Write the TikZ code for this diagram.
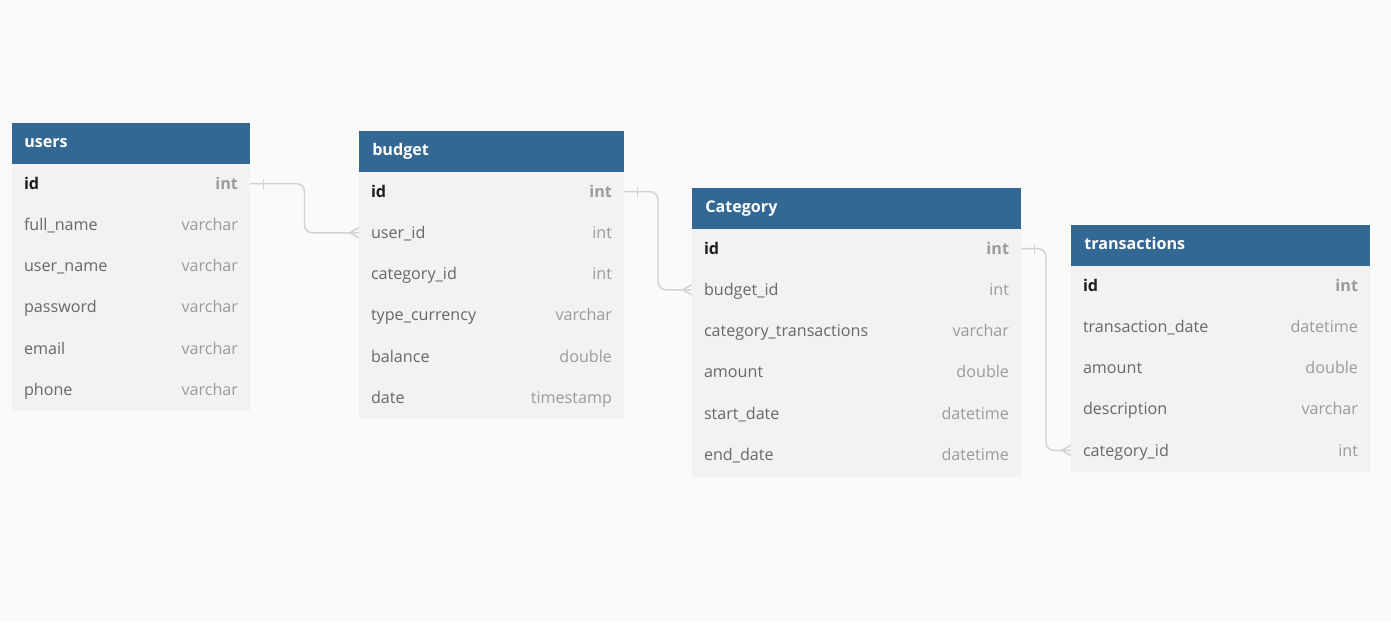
\documentclass[tikz,border=0pt]{standalone}
\usepackage{fontspec}
\setmainfont{Open Sans}
\usetikzlibrary{positioning}
\usetikzlibrary{calc}

\definecolor{pagebg}{HTML}{FAFAFA}
\definecolor{headblue}{HTML}{336794}
\definecolor{rowgray}{HTML}{F2F2F2}
\definecolor{namegray}{HTML}{686868}
\definecolor{typegray}{HTML}{9B9B9B}
\definecolor{keyblack}{HTML}{1E1E1E}
\definecolor{linkgray}{HTML}{D2D2D2}

\tikzset{
  headtext/.style={anchor=west, inner sep=0pt, text height=9pt, text depth=3pt, text=white, font=\bfseries\fontsize{12.1}{14}\selectfont},
  rowbox/.style={minimum height=30.9pt, inner sep=0pt},
  fieldname/.style={inner sep=0pt, text height=11.5pt, text depth=3pt, text=namegray, font=\fontsize{12.1}{14}\selectfont},
  fieldtype/.style={inner sep=0pt, text height=11.5pt, text depth=3pt, text=typegray, font=\fontsize{12.1}{14}\selectfont},
  keyname/.style={inner sep=0pt, text height=11.5pt, text depth=3pt, text=keyblack, font=\bfseries\fontsize{12.1}{14}\selectfont},
  keytype/.style={inner sep=0pt, text height=11.5pt, text depth=3pt, text=typegray, font=\bfseries\fontsize{12.1}{14}\selectfont},
  link/.style={draw=linkgray, line width=1.1pt, rounded corners=6pt},
  crowfoot/.style={draw=linkgray, line width=1.1pt, sharp corners}
}

\begin{document}
\begin{tikzpicture}[x=0.75pt, y=-0.75pt]
        \useasboundingbox (0,0) rectangle (1391,622);
        \fill[pagebg] (0,0) rectangle (1391,622);

        % users
        \fill[rowgray] (12,123) rectangle (250,411);
        \fill[headblue] (12,123) rectangle (250,164);
        \node[headtext] (users) at (24,143.5) {users};
        \node[rowbox, minimum width=178.5pt] (users-1) at (131,183.6) {};
        \node[keyname, right=9pt of users-1.west] {id};
        \node[keytype, left=9pt of users-1.east] {int};
        \foreach \f/\t [count=\i from 2] in {full\_name/varchar, user\_name/varchar, password/varchar, email/varchar, phone/varchar}{
            \pgfmathsetmacro\yc{183.6+(\i-1)*41.2}
            \node[rowbox, minimum width=178.5pt] (users-\i) at (131,\yc) {};
            \node[fieldname, right=9pt of users-\i.west] {\f};
            \node[fieldtype, left=9pt of users-\i.east] {\t};
        }

        % budget
        \fill[rowgray] (359,131) rectangle (624,419);
        \fill[headblue] (359,131) rectangle (624,172);
        \node[headtext] (budget) at (372,151.5) {budget};
        \node[rowbox, minimum width=198.75pt] (budget-1) at (491.5,191.6) {};
        \node[keyname, right=9pt of budget-1.west] {id};
        \node[keytype, left=9pt of budget-1.east] {int};
        \foreach \f/\t [count=\i from 2] in {user\_id/int, category\_id/int, type\_currency/varchar, balance/double, date/timestamp}{
            \pgfmathsetmacro\yc{191.6+(\i-1)*41.2}
            \node[rowbox, minimum width=198.75pt] (budget-\i) at (491.5,\yc) {};
            \node[fieldname, right=9pt of budget-\i.west] {\f};
            \node[fieldtype, left=9pt of budget-\i.east] {\t};
        }

        % Category
        \fill[rowgray] (692,188) rectangle (1021,477);
        \fill[headblue] (692,188) rectangle (1021,229);
        \node[headtext] (category) at (705,208.5) {Category};
        \node[rowbox, minimum width=246.75pt] (category-1) at (856.5,248.6) {};
        \node[keyname, right=9pt of category-1.west] {id};
        \node[keytype, left=9pt of category-1.east] {int};
        \foreach \f/\t [count=\i from 2] in {budget\_id/int, category\_transactions/varchar, amount/double, start\_date/datetime, end\_date/datetime}{
            \pgfmathsetmacro\yc{248.6+(\i-1)*41.2}
            \node[rowbox, minimum width=246.75pt] (category-\i) at (856.5,\yc) {};
            \node[fieldname, right=9pt of category-\i.west] {\f};
            \node[fieldtype, left=9pt of category-\i.east] {\t};
        }

        % transactions
        \fill[rowgray] (1071,225) rectangle (1370,472);
        \fill[headblue] (1071,225) rectangle (1370,266);
        \node[headtext] (transactions) at (1084,245.5) {transactions};
        \node[rowbox, minimum width=224.25pt] (transactions-1) at (1220.5,285.6) {};
        \node[keyname, right=9pt of transactions-1.west] {id};
        \node[keytype, left=9pt of transactions-1.east] {int};
        \foreach \f/\t [count=\i from 2] in {transaction\_date/datetime, amount/double, description/varchar, category\_id/int}{
            \pgfmathsetmacro\yc{285.6+(\i-1)*41.2}
            \node[rowbox, minimum width=224.25pt] (transactions-\i) at (1220.5,\yc) {};
            \node[fieldname, right=9pt of transactions-\i.west] {\f};
            \node[fieldtype, left=9pt of transactions-\i.east] {\t};
        }

        % links
        \coordinate (m1) at ($(users-1.east)!0.5!(budget-2.west)$);
        \coordinate (m2) at ($(budget-1.east)!0.5!(category-2.west)$);
        \coordinate (m3) at ($(category-1.east)!0.5!(transactions-5.west)$);
        \draw[link] (users-1.east) -| (m1) |- (budget-2.west);
        \draw[link] (budget-1.east) -| (m2) |- (category-2.west);
        \draw[link] (category-1.east) -| (m3) |- (transactions-5.west);

        % one side
        \draw[crowfoot] ($(users-1.east)+(13,-5)$) -- ++(0,10);
        \draw[crowfoot] ($(budget-1.east)+(13,-5)$) -- ++(0,10);
        \draw[crowfoot] ($(category-1.east)+(13,-5)$) -- ++(0,10);

        % many side
        \draw[crowfoot] ($(budget-2.west)+(0,-5)$) -- ++(-9,5) -- ++(9,5);
        \draw[crowfoot] ($(category-2.west)+(0,-5)$) -- ++(-9,5) -- ++(9,5);
        \draw[crowfoot] ($(transactions-5.west)+(0,-5)$) -- ++(-9,5) -- ++(9,5);

    \end{tikzpicture}
\end{document}
